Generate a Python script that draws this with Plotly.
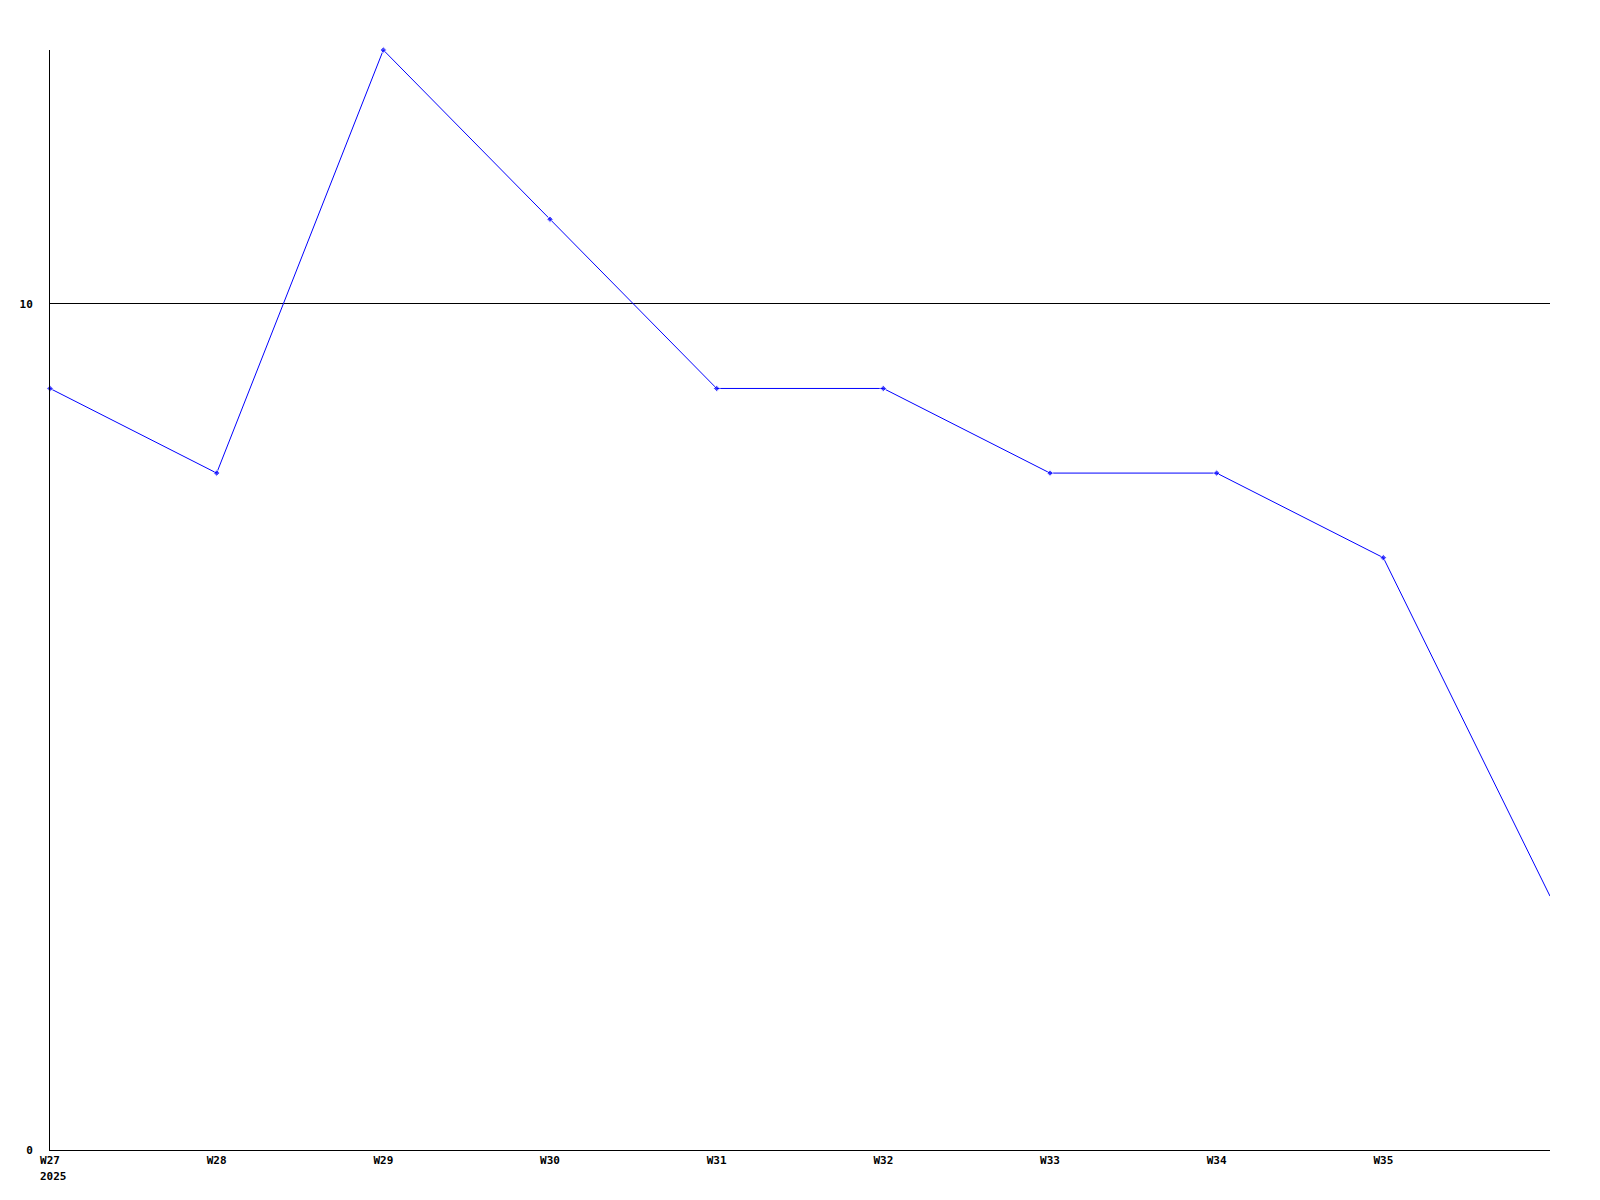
import plotly.graph_objects as go

weeks = ["W27", "W28", "W29", "W30", "W31", "W32", "W33", "W34", "W35", "W36"]
values = [9, 8, 13, 11, 9, 9, 8, 8, 7, 3]
tick_labels = ["W27", "W28", "W29", "W30", "W31", "W32", "W33", "W34", "W35"]
year_label = "2025"
y_ticks = [0, 10]

x = list(range(len(weeks)))
sizes = [5] * (len(weeks) - 1) + [0]

font = dict(family="DejaVu Sans Mono", size=11, color="black", weight="bold")

fig = go.Figure()
fig.add_trace(go.Scatter(
    x=x, y=values, mode="lines+markers",
    line=dict(color="#0000ff", width=1),
    marker=dict(symbol="diamond", size=sizes, color="#0000ff"),
    cliponaxis=False, hoverinfo="skip", showlegend=False,
))

fig.update_layout(
    width=1584, height=1184,
    margin=dict(l=42, r=42, t=42, b=42),
    paper_bgcolor="white", plot_bgcolor="white",
    font=font,
)
fig.update_xaxes(
    range=[0, len(weeks) - 1], tickvals=x[:len(tick_labels)], ticktext=tick_labels,
    showgrid=False, zeroline=False, showline=True, linecolor="black", linewidth=1,
    ticks="", tickfont=font, ticklabelstandoff=0,
)
fig.update_yaxes(
    range=[0, 13], tickvals=y_ticks, ticktext=[str(v) for v in y_ticks],
    showgrid=True, gridcolor="black", gridwidth=1, zeroline=False,
    showline=True, linecolor="black", linewidth=1, ticks="", tickfont=font,
    ticklabelstandoff=14,
)
fig.add_annotation(
    x=0, y=0, xref="x", yref="paper", text=year_label, showarrow=False,
    xanchor="left", yanchor="top", xshift=-12, yshift=-18, font=font,
)
fig.write_html("out.html")
